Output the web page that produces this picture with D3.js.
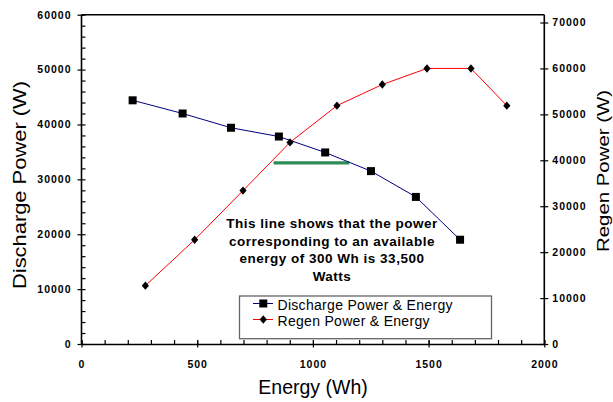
<!DOCTYPE html>
<html>
<head>
<meta charset="utf-8">
<script src="https://cdn.jsdelivr.net/npm/d3@7"></script>
<style>
  body { margin: 0; background: #fff; }
  svg { display: block; font-family: "Liberation Sans", Arial, sans-serif; }
  .tick text { font-weight: bold; font-size: 10.5px; letter-spacing: 1px; fill: #000; }
</style>
</head>
<body>
<svg id="chart" width="613" height="402"></svg>
<script>
// Discharge series (left axis)
var dischargeEnergy = [221, 437, 646, 853, 1053, 1251, 1445, 1636];
var dischargePower = [44400, 42000, 39400, 37800, 34900, 31500, 26800, 19000];
// Regen series (right axis)
var regenEnergy = [276, 489, 698, 901, 1104, 1300, 1493, 1683, 1838];
var regenPower = [12700, 22700, 33400, 43900, 51900, 56500, 60000, 60000, 51900];
// green marker line (left axis)
var markerLine = {from: 830, to: 1157, power: 33000};
var xTicks = [0, 500, 1000, 1500, 2000];
var yLeftTicks = [0, 10000, 20000, 30000, 40000, 50000, 60000];
var yRightTicks = [0, 10000, 20000, 30000, 40000, 50000, 60000, 70000];
var noteLines = ["This line shows that the power", "corresponding to an available", "energy of 300 Wh is 33,500", "Watts"];
var legendLabels = ["Discharge Power & Energy", "Regen Power & Energy"];

var plot = {left: 81.5, right: 544.3, top: 14.7, bottom: 344};

var x = d3.scaleLinear().domain([0, 2000]).range([plot.left, plot.right]);
var yL = d3.scaleLinear().domain([0, 60000]).range([plot.bottom, plot.top]);
var yR = d3.scaleLinear().domain([0, 71700]).range([plot.bottom, plot.top]);
var fmt = d3.format("d");

var svg = d3.select("#chart");

/**
 * Axes
 */
// minor ticks first (inside)
svg.append("g")
  .attr("transform", "translate(0," + plot.bottom + ")")
  .call(d3.axisBottom(x).tickValues(d3.range(0, 2001, 100)).tickSize(-4).tickFormat(""))
  .call(function (g) { g.select(".domain").remove(); });
svg.append("g")
  .attr("transform", "translate(" + plot.left + ",0)")
  .call(d3.axisLeft(yL).tickValues(d3.range(0, 60001, 2000)).tickSize(-4).tickFormat(""))
  .call(function (g) { g.select(".domain").remove(); });

var xAxis = svg.append("g")
  .attr("transform", "translate(0," + plot.bottom + ")")
  .call(d3.axisBottom(x).tickValues(xTicks).tickFormat(fmt).tickSize(3.5).tickPadding(13).tickSizeOuter(0));
xAxis.selectAll(".tick line").attr("y1", -3.5);

var yAxisL = svg.append("g")
  .attr("transform", "translate(" + plot.left + ",0)")
  .call(d3.axisLeft(yL).tickValues(yLeftTicks).tickFormat(fmt).tickSize(4).tickPadding(6).tickSizeOuter(0));
yAxisL.selectAll(".tick line").attr("x1", 0);

var yAxisR = svg.append("g")
  .attr("transform", "translate(" + plot.right + ",0)")
  .call(d3.axisRight(yR).tickValues(yRightTicks).tickFormat(fmt).tickSize(4).tickPadding(4).tickSizeOuter(0));
yAxisR.selectAll(".tick line").attr("x1", -4);

svg.selectAll(".domain").attr("stroke", "#000").attr("stroke-width", 1.6);
svg.selectAll(".tick line").attr("stroke", "#000").attr("stroke-width", 1.2);

// top frame line
svg.append("line")
  .attr("x1", plot.left).attr("x2", plot.right)
  .attr("y1", plot.top).attr("y2", plot.top)
  .attr("stroke", "#000").attr("stroke-width", 1.6);
// extend domains up to frame
yAxisL.select(".domain").attr("d", "M0," + plot.bottom + "V" + plot.top);
yAxisR.select(".domain").attr("d", "M0," + plot.bottom + "V" + plot.top);

/**
 * Axis titles
 */
svg.append("text")
  .attr("transform", "translate(" + 313 + ",394)")
  .attr("text-anchor", "middle")
  .style("font-size", "19.5px")
  .text("Energy (Wh)");
svg.append("text")
  .attr("transform", "translate(26,185) rotate(-90)")
  .attr("text-anchor", "middle")
  .attr("textLength", 208)
  .attr("lengthAdjust", "spacingAndGlyphs")
  .style("font-size", "18px")
  .text("Discharge Power (W)");
svg.append("text")
  .attr("transform", "translate(609,171) rotate(-90)")
  .attr("text-anchor", "middle")
  .attr("textLength", 162)
  .attr("lengthAdjust", "spacingAndGlyphs")
  .style("font-size", "17px")
  .text("Regen Power (W)");

/**
 * Series
 */
var discharge = dischargeEnergy.map(function (e, i) { return {e: e, p: dischargePower[i]}; });
var regen = regenEnergy.map(function (e, i) { return {e: e, p: regenPower[i]}; });

// green line
svg.append("line")
  .attr("x1", x(markerLine.from)).attr("x2", x(markerLine.to))
  .attr("y1", yL(markerLine.power)).attr("y2", yL(markerLine.power))
  .attr("stroke", "#2e8b57").attr("stroke-width", 3.3);

svg.append("path")
  .datum(regen)
  .attr("fill", "none").attr("stroke", "#ff0000").attr("stroke-width", 1)
  .attr("d", d3.line().x(function (d) { return x(d.e); }).y(function (d) { return yR(d.p); }));
svg.append("path")
  .datum(discharge)
  .attr("fill", "none").attr("stroke", "#000080").attr("stroke-width", 1)
  .attr("d", d3.line().x(function (d) { return x(d.e); }).y(function (d) { return yL(d.p); }));

var diamond = "M0,-4.2L3.6,0L0,4.2L-3.6,0Z";
svg.selectAll(".regen-pt")
  .data(regen)
  .enter().append("path")
  .attr("class", "regen-pt")
  .attr("d", diamond)
  .attr("transform", function (d) { return "translate(" + x(d.e) + "," + yR(d.p) + ")"; })
  .attr("fill", "#000");
svg.selectAll(".dis-pt")
  .data(discharge)
  .enter().append("rect")
  .attr("class", "dis-pt")
  .attr("x", function (d) { return x(d.e) - 4; })
  .attr("y", function (d) { return yL(d.p) - 4; })
  .attr("width", 8).attr("height", 8)
  .attr("fill", "#000");

/**
 * Annotation
 */
var note = svg.append("text")
  .attr("text-anchor", "middle")
  .style("font-size", "13.5px")
  .style("font-weight", "bold")
  .style("letter-spacing", "0.5px");
note.selectAll("tspan")
  .data(noteLines)
  .enter().append("tspan")
  .attr("x", 332)
  .attr("y", function (d, i) { return 227.7 + i * 17.8; })
  .text(function (d) { return d; });

/**
 * Legend
 */
var legend = svg.append("g").attr("transform", "translate(239.5,296)");
legend.append("rect")
  .attr("width", 252).attr("height", 42.7)
  .attr("fill", "#fff").attr("stroke", "#666").attr("stroke-width", 1.3);
var rowsY = [7.5, 23.5];
var colors = ["#000080", "#ff0000"];
legendLabels.forEach(function (label, i) {
  legend.append("line")
    .attr("x1", 13.5).attr("x2", 33.5)
    .attr("y1", rowsY[i]).attr("y2", rowsY[i])
    .attr("stroke", colors[i]).attr("stroke-width", 1);
  if (i === 0) {
    legend.append("rect")
      .attr("x", 19.8).attr("y", rowsY[i] - 4).attr("width", 8).attr("height", 8)
      .attr("fill", "#000");
  } else {
    legend.append("path")
      .attr("d", diamond)
      .attr("transform", "translate(23.8," + rowsY[i] + ")")
      .attr("fill", "#000");
  }
  legend.append("text")
    .attr("x", 38).attr("y", rowsY[i] + 6.5)
    .style("font-size", "14px")
    .style("letter-spacing", "0.3px")
    .text(label);
});
</script>
</body>
</html>
